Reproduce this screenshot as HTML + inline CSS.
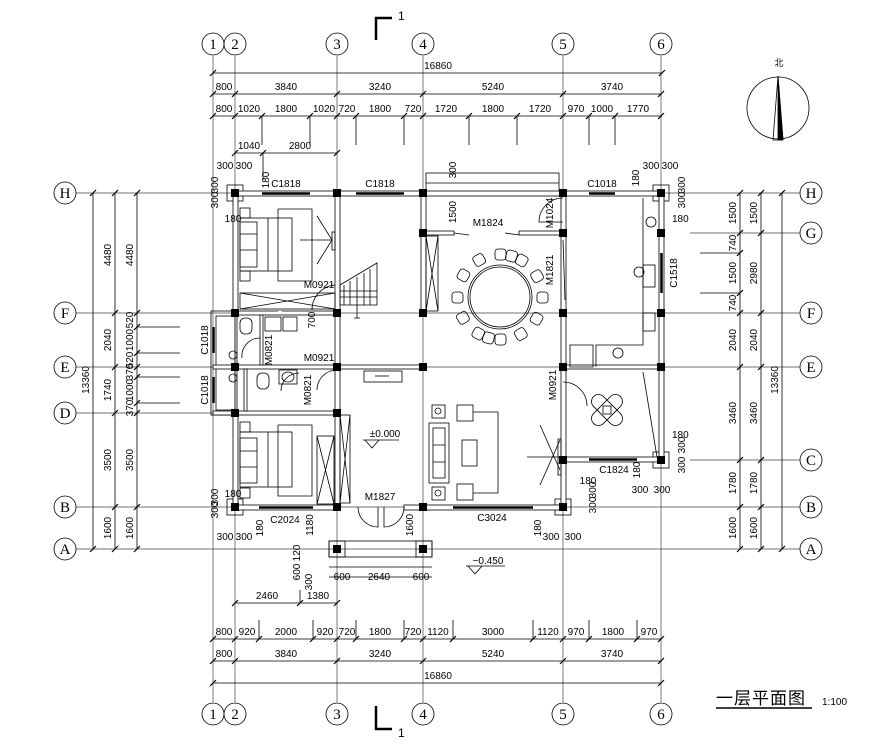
<!DOCTYPE html>
<html><head><meta charset="utf-8"><style>
html,body{margin:0;padding:0;background:#fff;}
svg{display:block;}
text{font-family:"Liberation Sans","Noto Sans CJK SC",sans-serif;font-size:10px;fill:#000;}
.c{text-anchor:middle;}
text.ax{font-family:"Liberation Serif",serif;font-size:15px;text-anchor:middle;}
text.big{font-size:17px;letter-spacing:1px;}
</style></head><body>
<svg width="893" height="751" viewBox="0 0 893 751" xmlns="http://www.w3.org/2000/svg">
<g stroke="#000" stroke-width="0.8" fill="none">
<path d="M213 56V702 M235 56V702 M337 56V702 M423 56V702 M563 56V702 M661 56V702" stroke="#444" stroke-width="0.7"/>
<path d="M76 193H800 M76 313H800 M76 367H800 M76 413H230 M76 507H800 M76 549H800 M690 233H800 M690 460H800" stroke="#444" stroke-width="0.7"/>
<circle cx="213" cy="44" r="11"/><circle cx="235" cy="44" r="11"/><circle cx="337" cy="44" r="11"/><circle cx="423" cy="44" r="11"/><circle cx="563" cy="44" r="11"/><circle cx="661" cy="44" r="11"/>
<circle cx="213" cy="714" r="11"/><circle cx="235" cy="714" r="11"/><circle cx="337" cy="714" r="11"/><circle cx="423" cy="714" r="11"/><circle cx="563" cy="714" r="11"/><circle cx="661" cy="714" r="11"/>
<circle cx="65" cy="193" r="11"/><circle cx="65" cy="313" r="11"/><circle cx="65" cy="367" r="11"/><circle cx="65" cy="413" r="11"/><circle cx="65" cy="507" r="11"/><circle cx="65" cy="549" r="11"/>
<circle cx="811" cy="193" r="11"/><circle cx="811" cy="233" r="11"/><circle cx="811" cy="313" r="11"/><circle cx="811" cy="367" r="11"/><circle cx="811" cy="460" r="11"/><circle cx="811" cy="507" r="11"/><circle cx="811" cy="549" r="11"/>

<path d="M213 73H662 M213 94H662 M213 116H662 M235 153H337"/>
<path d="M262 116V145 M310 116V145 M356 116V145 M404 116V145 M469 116V145 M517 116V145 M589 116V145 M615 116V145 M263 153V180"/>
<g stroke-width="1.2">
<path d="M210 76l6-6 M659 76l6-6 M210 97l6-6 M232 97l6-6 M334 97l6-6 M420 97l6-6 M560 97l6-6 M658 97l6-6"/>
<path d="M210 119l6-6 M232 119l6-6 M259 119l6-6 M307 119l6-6 M334 119l6-6 M353 119l6-6 M401 119l6-6 M420 119l6-6 M466 119l6-6 M514 119l6-6 M560 119l6-6 M586 119l6-6 M612 119l6-6 M658 119l6-6"/>
<path d="M232 156l6-6 M260 156l6-6 M334 156l6-6"/>
</g>
<path d="M235 603H337 M213 639H662 M213 661H662 M213 683H662"/>
<path d="M300 603V590 M259 639V620 M313 639V620 M356 639V620 M404 639V620 M453 639V620 M533 639V620 M589 639V620 M637 639V620"/>
<g stroke-width="1.2">
<path d="M232 606l6-6 M297 606l6-6 M334 606l6-6"/>
<path d="M210 642l6-6 M232 642l6-6 M256 642l6-6 M310 642l6-6 M334 642l6-6 M353 642l6-6 M401 642l6-6 M420 642l6-6 M450 642l6-6 M530 642l6-6 M560 642l6-6 M586 642l6-6 M634 642l6-6 M658 642l6-6"/>
<path d="M210 664l6-6 M232 664l6-6 M334 664l6-6 M420 664l6-6 M560 664l6-6 M658 664l6-6"/>
<path d="M210 686l6-6 M658 686l6-6"/>
</g>
<path d="M93 193V549 M115 193V549 M137 193V549"/>
<path d="M137 327H180 M137 353H180 M137 377H180 M137 403H180"/>
<g stroke-width="1.2">
<path d="M90 196l6-6 M90 552l6-6 M112 196l6-6 M112 316l6-6 M112 370l6-6 M112 416l6-6 M112 510l6-6 M112 552l6-6"/>
<path d="M134 196l6-6 M134 316l6-6 M134 330l6-6 M134 356l6-6 M134 370l6-6 M134 380l6-6 M134 406l6-6 M134 416l6-6 M134 510l6-6 M134 552l6-6"/>
</g>
<path d="M740 193V549 M761 193V549 M782 193V549 M700 253H740 M700 293H740"/>
<g stroke-width="1.2">
<path d="M737 196l6-6 M737 236l6-6 M737 256l6-6 M737 296l6-6 M737 316l6-6 M737 370l6-6 M737 463l6-6 M737 510l6-6 M737 552l6-6"/>
<path d="M758 196l6-6 M758 236l6-6 M758 316l6-6 M758 370l6-6 M758 463l6-6 M758 510l6-6 M758 552l6-6 M779 196l6-6 M779 552l6-6"/>
</g>

<rect x="227" y="185" width="16" height="16"/><rect x="653" y="185" width="16" height="16"/>
<rect x="227" y="499" width="16" height="16"/><rect x="555" y="499" width="16" height="16"/><rect x="653" y="452" width="16" height="16"/>
<rect x="426" y="173" width="133" height="20"/><path d="M426 183H559"/>

<rect x="233" y="191" width="430" height="5" fill="#fff"/>
<rect x="233" y="193" width="5" height="120" fill="#fff"/>
<rect x="211" y="311" width="26" height="104"/>
<rect x="216" y="316" width="19" height="94"/>
<rect x="233" y="413" width="5" height="94" fill="#fff"/>
<rect x="235" y="505" width="103" height="5" fill="#fff"/>
<rect x="404" y="505" width="159" height="5" fill="#fff"/>
<rect x="659" y="193" width="5" height="267" fill="#fff"/>
<rect x="563" y="457" width="98" height="5" fill="#fff"/>
<rect x="561" y="367" width="5" height="140" fill="#fff"/>
<rect x="335" y="193" width="5" height="314" fill="#fff"/>
<rect x="421" y="193" width="5" height="120" fill="#fff"/>
<rect x="561" y="193" width="5" height="174" fill="#fff"/>
<rect x="424" y="231" width="30" height="4" fill="#fff"/><rect x="519" y="231" width="44" height="4" fill="#fff"/>
<rect x="235" y="311" width="102" height="4" fill="#fff"/>
<rect x="213" y="365" width="211" height="4" fill="#fff"/>
<rect x="563" y="365" width="98" height="4" fill="#fff"/>
<rect x="213" y="411" width="124" height="4" fill="#fff"/>
<rect x="260" y="315" width="3" height="50" fill="#fff"/><rect x="244" y="369" width="3" height="42" fill="#fff"/>
<g stroke-width="2.5"><path d="M262 193.5H310 M356 193.5H404 M589 193.5H615 M661.5 253V293 M259 507.5H313 M453 507.5H533 M589 459.5H637 M213.5 327V353 M213.5 377V403"/></g>
<g stroke="#fff" stroke-width="4"><path d="M337.5 290V310 M563.5 198V228 M563.5 240V300 M563.5 380V410 M337.5 390V408 M280 313V311"/></g>
<path d="M335 285A25 25 0 0 0 312 310 M563 198A24 24 0 0 0 539 222H563 M337 370A20 20 0 0 0 317 390 M563 382A24 24 0 0 1 587 406 M260 338A18 18 0 0 0 242 358 M281 391A18 18 0 0 1 299 373"/>
<path d="M358 507A20 20 0 0 0 378 527V507 M404 507A20 20 0 0 1 384 527V507"/>
<path d="M454 233l15 2 M505 233l14 2 M563 240l2 60"/>
<g fill="#000" stroke="none">
<rect x="231" y="189" width="8" height="8"/><rect x="333" y="189" width="8" height="8"/><rect x="419" y="189" width="8" height="8"/><rect x="559" y="189" width="8" height="8"/><rect x="657" y="189" width="8" height="8"/>
<rect x="419" y="229" width="8" height="8"/><rect x="559" y="229" width="8" height="8"/><rect x="657" y="229" width="8" height="8"/>
<rect x="231" y="309" width="8" height="8"/><rect x="333" y="309" width="8" height="8"/><rect x="419" y="309" width="8" height="8"/><rect x="559" y="309" width="8" height="8"/><rect x="657" y="309" width="8" height="8"/>
<rect x="231" y="363" width="8" height="8"/><rect x="333" y="363" width="8" height="8"/><rect x="419" y="363" width="8" height="8"/><rect x="559" y="363" width="8" height="8"/><rect x="657" y="363" width="8" height="8"/>
<rect x="231" y="409" width="8" height="8"/><rect x="333" y="409" width="8" height="8"/>
<rect x="559" y="456" width="8" height="8"/><rect x="657" y="456" width="8" height="8"/>
<rect x="231" y="503" width="8" height="8"/><rect x="333" y="503" width="8" height="8"/><rect x="419" y="503" width="8" height="8"/><rect x="559" y="503" width="8" height="8"/>
<rect x="333" y="545" width="8" height="8"/><rect x="419" y="545" width="8" height="8"/>
</g>
<rect x="329" y="541" width="103" height="16"/><path d="M329 567H432 M329 577H432"/>
<rect x="329" y="541" width="16" height="16"/><rect x="416" y="541" width="16" height="16"/>

<rect x="240" y="293" width="95" height="16"/><path d="M240 293L335 309 M240 309L335 293"/>
<rect x="426" y="236" width="12" height="75"/><path d="M426 236L438 311 M426 311L438 236"/>
<rect x="340" y="415" width="10" height="88"/><rect x="317" y="436" width="17" height="68"/><path d="M340 415L350 503 M340 503L350 415 M317 436L334 504 M317 504L334 436"/>
<rect x="240" y="218" width="52" height="53"/><rect x="240" y="222" width="17" height="45"/><path d="M240 234H257 M240 250H257 M268 218V271 M278 209V281H312V209H278"/>
<rect x="240" y="208" width="10" height="10"/><rect x="240" y="271" width="10" height="10"/>
<rect x="240" y="432" width="52" height="55"/><rect x="240" y="438" width="17" height="45"/><path d="M240 451H257 M240 467H257 M268 432V487 M278 425V496H312V425H278"/>
<rect x="240" y="422" width="10" height="10"/><rect x="240" y="488" width="10" height="10"/>
<path d="M317 216L332 240L317 264 M300 240H332"/><rect x="332" y="232" width="3" height="18"/>
<path d="M340 285L377 263V305H340Z M340 291H377 M340 297H377 M344 285V305 M350 281V305 M357 277V305 M364 273V305 M370 269V305 M357 280V318 M354 318h6"/>
<rect x="240" y="318" width="12" height="16" rx="5"/><rect x="265" y="317" width="16" height="14"/><rect x="283" y="317" width="14" height="14"/>
<rect x="257" y="373" width="12" height="16" rx="5"/><rect x="279" y="370" width="18" height="14"/><ellipse cx="288" cy="377" rx="6" ry="5"/>
<circle cx="233" cy="355" r="4"/><circle cx="233" cy="378" r="4"/>
<circle cx="500" cy="297" r="32"/><circle cx="500" cy="297" r="30"/>
<g transform="translate(500 297)">
<rect x="-5" y="-48" width="11" height="11" rx="3"/><rect x="-5" y="37" width="11" height="11" rx="3"/><rect x="-48" y="-5" width="11" height="11" rx="3"/><rect x="37" y="-5" width="11" height="11" rx="3"/>
<rect x="-5" y="-48" width="11" height="11" rx="3" transform="rotate(30)"/><rect x="-5" y="-48" width="11" height="11" rx="3" transform="rotate(60)"/><rect x="-5" y="-48" width="11" height="11" rx="3" transform="rotate(120)"/><rect x="-5" y="-48" width="11" height="11" rx="3" transform="rotate(150)"/>
<rect x="-5" y="-48" width="11" height="11" rx="3" transform="rotate(210)"/><rect x="-5" y="-48" width="11" height="11" rx="3" transform="rotate(240)"/><rect x="-5" y="-48" width="11" height="11" rx="3" transform="rotate(300)"/><rect x="-5" y="-48" width="11" height="11" rx="3" transform="rotate(330)"/>
<rect x="-5" y="-48" width="11" height="11" rx="3" transform="rotate(15)"/><rect x="-5" y="-48" width="11" height="11" rx="3" transform="rotate(195)"/>
</g>
<path d="M643 198V345H596V367 M570 345H593V367H570Z"/>
<circle cx="651" cy="222" r="5"/><rect x="643" y="265" width="12" height="22"/><rect x="643" y="313" width="12" height="18"/><circle cx="618" cy="353" r="5"/><circle cx="639" cy="272" r="5"/>
<path d="M643 372L657 457"/>
<g transform="translate(607 410) rotate(45)"><rect x="-19" y="-7" width="38" height="14" rx="7"/><rect x="-7" y="-19" width="14" height="38" rx="7"/><rect x="-7" y="-7" width="14" height="14" fill="#fff"/></g>
<rect x="603" y="406" width="8" height="8"/>
<rect x="429" y="423" width="20" height="60"/><rect x="433" y="428" width="12" height="50"/><path d="M433 445H445 M433 462H445"/>
<rect x="432" y="405" width="13" height="13"/><rect x="432" y="487" width="13" height="13"/>
<circle cx="438" cy="411" r="3"/><circle cx="438" cy="493" r="3"/>
<rect x="457" y="405" width="16" height="16"/><rect x="457" y="484" width="16" height="16"/>
<path d="M473 412H498V493H473"/><rect x="462" y="440" width="15" height="26"/>
<rect x="364" y="371" width="38" height="11"/><path d="M375 376h14"/>
<path d="M540 425L560 470 M540 485L560 440 M527 457H560"/><rect x="558" y="439" width="3" height="36"/>
<path d="M363 440H399 M365 440L372 448L379 440 M466 566H505 M468 566L475 574L482 566"/>
<path d="M376 40V18H392 M376 706V729H392" stroke-width="2.5"/>
<circle cx="778" cy="108" r="31"/>
<path d="M778 76L773 140H783Z"/><path d="M778 76L778 140H783Z" fill="#000"/>
<path d="M716 708H812" stroke-width="1.5"/>
</g>

<text x="398" y="20" style="font-size:12px">1</text><text x="398" y="737" style="font-size:12px">1</text>
<text class="ax" x="213" y="49">1</text><text class="ax" x="235" y="49">2</text><text class="ax" x="337" y="49">3</text><text class="ax" x="423" y="49">4</text><text class="ax" x="563" y="49">5</text><text class="ax" x="661" y="49">6</text>
<text class="ax" x="213" y="719">1</text><text class="ax" x="235" y="719">2</text><text class="ax" x="337" y="719">3</text><text class="ax" x="423" y="719">4</text><text class="ax" x="563" y="719">5</text><text class="ax" x="661" y="719">6</text>
<text class="ax" x="65" y="198">H</text><text class="ax" x="65" y="318">F</text><text class="ax" x="65" y="372">E</text><text class="ax" x="65" y="418">D</text><text class="ax" x="65" y="512">B</text><text class="ax" x="65" y="554">A</text>
<text class="ax" x="811" y="198">H</text><text class="ax" x="811" y="238">G</text><text class="ax" x="811" y="318">F</text><text class="ax" x="811" y="372">E</text><text class="ax" x="811" y="465">C</text><text class="ax" x="811" y="512">B</text><text class="ax" x="811" y="554">A</text>
<g class="c">
<text x="438" y="69">16860</text>
<text x="224" y="90">800</text><text x="286" y="90">3840</text><text x="380" y="90">3240</text><text x="493" y="90">5240</text><text x="612" y="90">3740</text>
<text x="224" y="112">800</text><text x="249" y="112">1020</text><text x="286" y="112">1800</text><text x="324" y="112">1020</text><text x="347" y="112">720</text><text x="380" y="112">1800</text><text x="413" y="112">720</text><text x="446" y="112">1720</text><text x="493" y="112">1800</text><text x="540" y="112">1720</text><text x="576" y="112">970</text><text x="602" y="112">1000</text><text x="638" y="112">1770</text>
<text x="249" y="149">1040</text><text x="300" y="149">2800</text>
<text x="225" y="169">300</text><text x="244" y="169">300</text><text x="651" y="169">300</text><text x="670" y="169">300</text>
<text x="267" y="599">2460</text><text x="318" y="599">1380</text>
<text x="224" y="635">800</text><text x="247" y="635">920</text><text x="286" y="635">2000</text><text x="325" y="635">920</text><text x="347" y="635">720</text><text x="380" y="635">1800</text><text x="413" y="635">720</text><text x="438" y="635">1120</text><text x="493" y="635">3000</text><text x="548" y="635">1120</text><text x="576" y="635">970</text><text x="613" y="635">1800</text><text x="649" y="635">970</text>
<text x="224" y="657">800</text><text x="286" y="657">3840</text><text x="380" y="657">3240</text><text x="493" y="657">5240</text><text x="612" y="657">3740</text>
<text x="438" y="679">16860</text>
<text x="342" y="580">600</text><text x="379" y="580">2640</text><text x="421" y="580">600</text>
<text x="225" y="540">300</text><text x="244" y="540">300</text><text x="551" y="540">300</text><text x="573" y="540">300</text><text x="640" y="493">300</text><text x="662" y="493">300</text>
<text x="286" y="187">C1818</text><text x="380" y="187">C1818</text><text x="602" y="187">C1018</text>
<text x="285" y="523">C2024</text><text x="492" y="521">C3024</text><text x="614" y="473">C1824</text>
<text x="380" y="500">M1827</text><text x="488" y="226">M1824</text>
<text x="319" y="288">M0921</text><text x="319" y="361">M0921</text>
<text x="385" y="437">±0.000</text><text x="488" y="564">−0.450</text>
<text x="233" y="222">180</text><text x="233" y="497">180</text><text x="588" y="484">180</text>
<text x="779" y="66" style="font-size:9px">北</text>
</g>
<text class="big" x="716" y="704">一层平面图</text>
<text x="822" y="705">1:100</text>

<g class="c">
<text transform="translate(111 255) rotate(-90)">4480</text><text transform="translate(133 255) rotate(-90)">4480</text>
<text transform="translate(111 340) rotate(-90)">2040</text><text transform="translate(111 390) rotate(-90)">1740</text>
<text transform="translate(133 320) rotate(-90)">520</text><text transform="translate(133 340) rotate(-90)">1000</text><text transform="translate(133 360) rotate(-90)">520</text>
<text transform="translate(133 372) rotate(-90)">370</text><text transform="translate(133 390) rotate(-90)">1000</text><text transform="translate(133 408) rotate(-90)">370</text>
<text transform="translate(111 460) rotate(-90)">3500</text><text transform="translate(133 460) rotate(-90)">3500</text>
<text transform="translate(111 528) rotate(-90)">1600</text><text transform="translate(133 528) rotate(-90)">1600</text>
<text transform="translate(89 380) rotate(-90)">13360</text>
<text transform="translate(736 213) rotate(-90)">1500</text><text transform="translate(757 213) rotate(-90)">1500</text>
<text transform="translate(736 243) rotate(-90)">740</text><text transform="translate(736 273) rotate(-90)">1500</text><text transform="translate(736 303) rotate(-90)">740</text><text transform="translate(757 273) rotate(-90)">2980</text>
<text transform="translate(736 340) rotate(-90)">2040</text><text transform="translate(757 340) rotate(-90)">2040</text>
<text transform="translate(736 413) rotate(-90)">3460</text><text transform="translate(757 413) rotate(-90)">3460</text>
<text transform="translate(736 483) rotate(-90)">1780</text><text transform="translate(757 483) rotate(-90)">1780</text>
<text transform="translate(736 528) rotate(-90)">1600</text><text transform="translate(757 528) rotate(-90)">1600</text>
<text transform="translate(778 380) rotate(-90)">13360</text>
<text transform="translate(208 340) rotate(-90)">C1018</text><text transform="translate(208 390) rotate(-90)">C1018</text>
<text transform="translate(677 273) rotate(-90)">C1518</text>
<text transform="translate(272 350) rotate(-90)">M0821</text><text transform="translate(311 390) rotate(-90)">M0821</text>
<text transform="translate(553 213) rotate(-90)">M1024</text><text transform="translate(553 270) rotate(-90)">M1821</text><text transform="translate(556 385) rotate(-90)">M0921</text>
<text transform="translate(456 212) rotate(-90)">1500</text><text transform="translate(456 170) rotate(-90)">300</text>
<text transform="translate(315 320) rotate(-90)">700</text>
<text transform="translate(313 525) rotate(-90)">1180</text><text transform="translate(413 525) rotate(-90)">1600</text>
<text transform="translate(300 572) rotate(-90)">600</text><text transform="translate(300 553) rotate(-90)">120</text><text transform="translate(312 582) rotate(-90)">300</text>
<text transform="translate(218 200) rotate(-90)">300</text><text transform="translate(218 185) rotate(-90)">300</text>
<text transform="translate(218 510) rotate(-90)">300</text><text transform="translate(218 497) rotate(-90)">300</text>
<text transform="translate(685 200) rotate(-90)">300</text><text transform="translate(685 185) rotate(-90)">300</text>
<text transform="translate(685 465) rotate(-90)">300</text><text transform="translate(685 445) rotate(-90)">300</text>
<text transform="translate(596 505) rotate(-90)">300</text><text transform="translate(596 490) rotate(-90)">300</text>
<text transform="translate(269 180) rotate(-90)">180</text><text transform="translate(639 178) rotate(-90)">180</text><text transform="translate(640 470) rotate(-90)">180</text>
<text transform="translate(263 528) rotate(-90)">180</text><text transform="translate(541 528) rotate(-90)">180</text>
</g>
<text x="672" y="222">180</text><text x="672" y="438">180</text>
</svg>
</body></html>
